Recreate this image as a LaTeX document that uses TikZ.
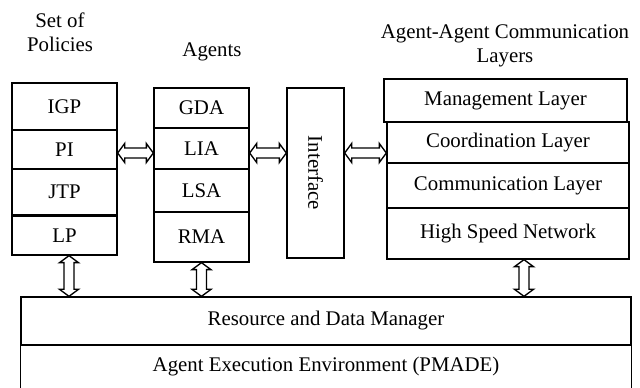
\documentclass[tikz,border=0pt]{standalone}
\usepackage{fontspec}
\setmainfont{Liberation Serif}
\usepackage{graphicx}
\usetikzlibrary{calc}

% hollow two-headed arrows, from node to node
\newcommand{\hdarrow}[2]{%
  \draw[fill=white] let \p1=(#1), \p2=(#2) in
    (\x1,\y1) -- (\x1+4.2pt,\y1+5.7pt) -- (\x1+4.2pt,\y1+3pt) -- (\x2-4.2pt,\y1+3pt)
    -- (\x2-4.2pt,\y1+5.7pt) -- (\x2,\y1) -- (\x2-4.2pt,\y1-5.7pt) -- (\x2-4.2pt,\y1-3pt)
    -- (\x1+4.2pt,\y1-3pt) -- (\x1+4.2pt,\y1-5.7pt) -- cycle;}
\newcommand{\vdarrow}[2]{%
  \draw[fill=white] let \p1=(#1), \p2=(#2) in
    (\x1,\y1) -- (\x1+5.7pt,\y1-4.2pt) -- (\x1+3pt,\y1-4.2pt) -- (\x1+3pt,\y2+4.2pt)
    -- (\x1+5.7pt,\y2+4.2pt) -- (\x1,\y2) -- (\x1-5.7pt,\y2+4.2pt) -- (\x1-3pt,\y2+4.2pt)
    -- (\x1-3pt,\y1-4.2pt) -- (\x1-5.7pt,\y1-4.2pt) -- cycle;}

\begin{document}
\begin{tikzpicture}[x=0.6pt, y=-0.6pt, line width=0.8pt,
  font=\fontsize{12.5}{14.4}\selectfont,
  cell/.style={draw, rectangle, inner sep=0pt}]
  \useasboundingbox (0,0) rectangle (640,388);
  % column titles
  \node[align=center] (polt) at (60,32) {Set of\\Policies};
  \node (agt) at (212,52) {Agents};
  \node[align=center] (layt) at (505,45.5) {Agent-Agent Communication\\Layers};
  % set of policies
  \node[cell, minimum width=63pt, minimum height=28.2pt] (IGP) at (64.5,106.5) {IGP};
  \node[cell, minimum width=63pt, minimum height=23.4pt] (PI) at (64.5,149.5) {PI};
  \node[cell, minimum width=63pt, minimum height=27.6pt] (JTP) at (64.5,192) {JTP};
  \node[cell, minimum width=63pt, minimum height=23.4pt] (LP) at (64.5,235.5) {LP};
  % agents
  \node[cell, minimum width=57pt, minimum height=24pt] (GDA) at (201.5,108) {GDA};
  \node[cell, minimum width=57pt, minimum height=24.6pt] (LIA) at (201.5,148.5) {LIA};
  \node[cell, minimum width=57pt, minimum height=25.8pt] (LSA) at (201.5,190.5) {LSA};
  \node[cell, minimum width=57pt, minimum height=30pt] (RMA) at (201.5,237) {RMA};
  % interface
  \node[cell, minimum width=34.2pt, minimum height=102pt] (Interface) at (315.5,173) {\rotatebox{-90}{Interface}};
  % communication layers
  \node[cell, minimum width=145.8pt, minimum height=25.8pt] (Mgmt) at (505.5,100.5) {Management Layer};
  \node[cell, minimum width=145.2pt, minimum height=24.6pt] (Coord) at (508,142.5) {Coordination Layer};
  \node[cell, minimum width=145.2pt, minimum height=27pt] (Comm) at (508,185.5) {Communication Layer};
  \node[cell, minimum width=145.2pt, minimum height=30.6pt] (HSN) at (508,233.5) {High Speed Network};
  % bottom layers
  \node[cell, minimum width=366pt, minimum height=28.8pt] (RDM) at (326,321) {Resource and Data Manager};
  \node[minimum width=366pt, minimum height=25.8pt] (AEE) at (326,366.5) {Agent Execution Environment (PMADE)};
  \draw (AEE.south west) -- (AEE.north west) -- (AEE.north east) -- (AEE.south east);
  % arrows
  \coordinate (axis) at (0,153);
  \hdarrow{PI.east |- axis}{LIA.west}
  \hdarrow{LIA.east |- axis}{Interface.west}
  \hdarrow{Interface.east |- axis}{Coord.west}
  \vdarrow{[xshift=2.7pt]LP.south}{RDM.north}
  \vdarrow{RMA.south}{RDM.north}
  \vdarrow{[xshift=9.6pt]HSN.south}{RDM.north}
\end{tikzpicture}
\end{document}
